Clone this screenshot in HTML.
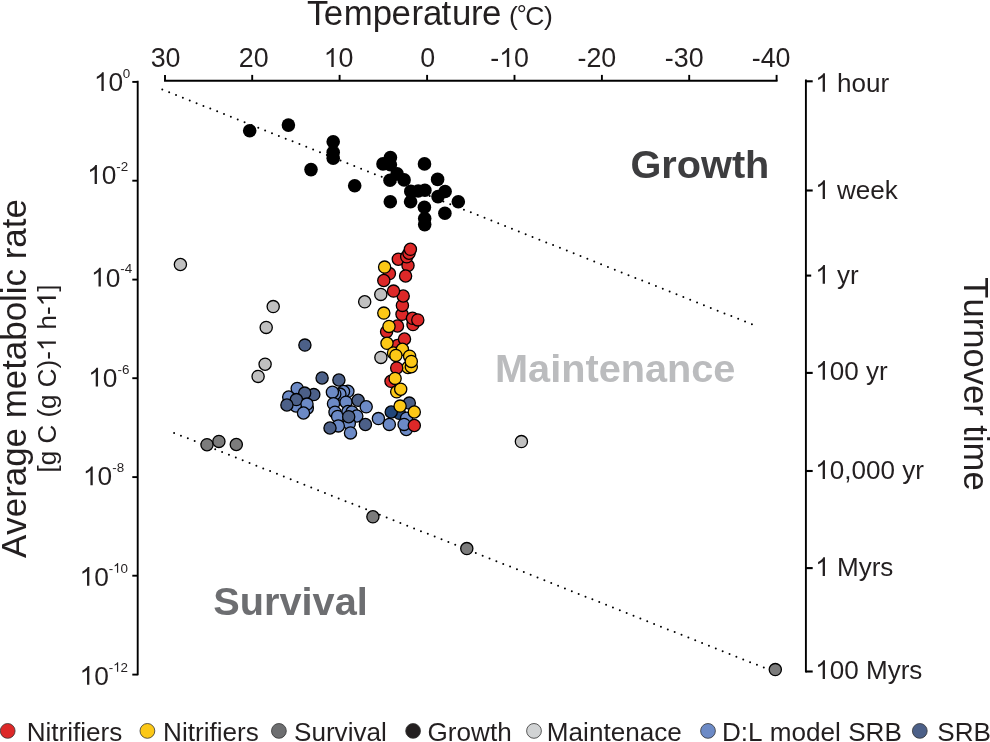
<!DOCTYPE html><html><head><meta charset="utf-8"><style>html,body{margin:0;padding:0;background:#fff;overflow:hidden;width:990px;height:742px;}svg{display:block;will-change:transform;}text{font-family:"Liberation Sans",sans-serif;font-kerning:none;font-feature-settings:"kern" 0,"liga" 0;}</style></head><body>
<svg width="990" height="742" viewBox="0 0 990 742">
<rect width="990" height="742" fill="#fff"/>
<text x="307.02 323.82 343.79 372.86 391.62 411.49 422.92 441.57 451.94 471.09 482.02" y="24.7" font-size="34.8" fill="#231f20">Temperature</text>
<text x="508.96" y="24.90" font-size="26.5" fill="#231f20">(</text>
<text x="516.81" y="22.75" font-size="25" fill="#231f20">°</text>
<text x="525.15" y="24.90" font-size="26.5" fill="#231f20">C</text>
<text x="544.04" y="24.90" font-size="26.5" fill="#231f20">)</text>
<g stroke="#000" stroke-width="1.9" fill="none">
<path d="M164.05 80.8 H777.55"/>
<path d="M165.0 80.8 V74.9"/>
<path d="M252.2 80.8 V74.9"/>
<path d="M339.6 80.8 V74.9"/>
<path d="M427.1 80.8 V74.9"/>
<path d="M514.5 80.8 V74.9"/>
<path d="M601.9 80.8 V74.9"/>
<path d="M689.2 80.8 V74.9"/>
<path d="M776.6 80.8 V74.9"/>
</g>
<text x="150.71" y="67.10" font-size="26.8" fill="#231f20">30</text>
<text x="238.79" y="67.10" font-size="26.8" fill="#231f20">20</text>
<text x="323.71" y="67.10" font-size="26.8" fill="#231f20"> 0</text>
<path d="M583 1147Q518 1085 412.5 1023Q307 961 223 930L223 1104Q374 1175 485.5 1276Q597 1377 639 1466L763 1466L763 0L583 0Z" fill="#231f20" transform="translate(323.71 67.10) scale(0.01309 -0.01309)"/>
<text x="420.35" y="67.10" font-size="26.8" fill="#231f20">0</text>
<text x="490.26" y="67.10" font-size="26.8" fill="#231f20">- 0</text>
<path d="M583 1147Q518 1085 412.5 1023Q307 961 223 930L223 1104Q374 1175 485.5 1276Q597 1377 639 1466L763 1466L763 0L583 0Z" fill="#231f20" transform="translate(499.19 67.10) scale(0.01309 -0.01309)"/>
<text x="577.46" y="67.10" font-size="26.8" fill="#231f20">-20</text>
<text x="664.86" y="67.10" font-size="26.8" fill="#231f20">-30</text>
<text x="751.76" y="67.10" font-size="26.8" fill="#231f20">-40</text>
<g stroke="#000" stroke-width="1.9" fill="none">
<path d="M137.7 80.8 V675.3"/>
<path d="M132.3 81.9 H137.7" stroke-width="1.9"/>
<path d="M132.3 180.7 H137.7" stroke-width="1.9"/>
<path d="M132.3 279.6 H137.7" stroke-width="1.9"/>
<path d="M132.3 378.2 H137.7" stroke-width="1.9"/>
<path d="M132.3 477.1 H137.7" stroke-width="1.9"/>
<path d="M132.3 575.7 H137.7" stroke-width="1.9"/>
<path d="M132.3 674.6 H137.7" stroke-width="1.9"/>
</g>
<text x="93.94" y="91.00" font-size="26.3" fill="#231f20"> 0</text>
<path d="M583 1147Q518 1085 412.5 1023Q307 961 223 930L223 1104Q374 1175 485.5 1276Q597 1377 639 1466L763 1466L763 0L583 0Z" fill="#231f20" transform="translate(93.94 91.00) scale(0.01284 -0.01284)"/>
<text x="122.78" y="78.18" font-size="13.4" fill="#231f20">0</text>
<text x="87.14" y="183.90" font-size="26.3" fill="#231f20"> 0</text>
<path d="M583 1147Q518 1085 412.5 1023Q307 961 223 930L223 1104Q374 1175 485.5 1276Q597 1377 639 1466L763 1466L763 0L583 0Z" fill="#231f20" transform="translate(87.14 183.90) scale(0.01284 -0.01284)"/>
<text x="116.30" y="170.78" font-size="13.4" fill="#231f20">-2</text>
<text x="91.04" y="286.60" font-size="26.3" fill="#231f20"> 0</text>
<path d="M583 1147Q518 1085 412.5 1023Q307 961 223 930L223 1104Q374 1175 485.5 1276Q597 1377 639 1466L763 1466L763 0L583 0Z" fill="#231f20" transform="translate(91.04 286.60) scale(0.01284 -0.01284)"/>
<text x="120.20" y="273.48" font-size="13.4" fill="#231f20">-4</text>
<text x="88.24" y="386.60" font-size="26.3" fill="#231f20"> 0</text>
<path d="M583 1147Q518 1085 412.5 1023Q307 961 223 930L223 1104Q374 1175 485.5 1276Q597 1377 639 1466L763 1466L763 0L583 0Z" fill="#231f20" transform="translate(88.24 386.60) scale(0.01284 -0.01284)"/>
<text x="117.50" y="373.68" font-size="13.4" fill="#231f20">-6</text>
<text x="82.94" y="485.30" font-size="26.3" fill="#231f20"> 0</text>
<path d="M583 1147Q518 1085 412.5 1023Q307 961 223 930L223 1104Q374 1175 485.5 1276Q597 1377 639 1466L763 1466L763 0L583 0Z" fill="#231f20" transform="translate(82.94 485.30) scale(0.01284 -0.01284)"/>
<text x="112.20" y="472.48" font-size="13.4" fill="#231f20">-8</text>
<text x="79.54" y="585.70" font-size="26.3" fill="#231f20"> 0</text>
<path d="M583 1147Q518 1085 412.5 1023Q307 961 223 930L223 1104Q374 1175 485.5 1276Q597 1377 639 1466L763 1466L763 0L583 0Z" fill="#231f20" transform="translate(79.54 585.70) scale(0.01284 -0.01284)"/>
<text x="108.70" y="572.68" font-size="13.4" fill="#231f20">- 0</text>
<path d="M583 1147Q518 1085 412.5 1023Q307 961 223 930L223 1104Q374 1175 485.5 1276Q597 1377 639 1466L763 1466L763 0L583 0Z" fill="#231f20" transform="translate(113.17 572.68) scale(0.00654 -0.00654)"/>
<text x="79.54" y="684.70" font-size="26.3" fill="#231f20"> 0</text>
<path d="M583 1147Q518 1085 412.5 1023Q307 961 223 930L223 1104Q374 1175 485.5 1276Q597 1377 639 1466L763 1466L763 0L583 0Z" fill="#231f20" transform="translate(79.54 684.70) scale(0.01284 -0.01284)"/>
<text x="108.70" y="671.78" font-size="13.4" fill="#231f20">- 2</text>
<path d="M583 1147Q518 1085 412.5 1023Q307 961 223 930L223 1104Q374 1175 485.5 1276Q597 1377 639 1466L763 1466L763 0L583 0Z" fill="#231f20" transform="translate(113.17 671.78) scale(0.00654 -0.00654)"/>
<g stroke="#000" stroke-width="1.9" fill="none">
<path d="M805.9 79.4 V672.6"/>
<path d="M805.9 81.3 H812.7" stroke-width="2.1"/>
<path d="M805.9 190.5 H812.7" stroke-width="2.1"/>
<path d="M805.9 275.6 H811.2" stroke-width="2.1"/>
<path d="M805.9 372.9 H812.7" stroke-width="2.1"/>
<path d="M805.9 471.0 H812.7" stroke-width="2.1"/>
<path d="M805.9 568.1 H812.7" stroke-width="2.1"/>
<path d="M805.9 671.5 H812.7" stroke-width="2.1"/>
</g>
<text x="815.26" y="91.80" font-size="26.05" fill="#231f20">  hour</text>
<path d="M583 1147Q518 1085 412.5 1023Q307 961 223 930L223 1104Q374 1175 485.5 1276Q597 1377 639 1466L763 1466L763 0L583 0Z" fill="#231f20" transform="translate(815.26 91.80) scale(0.01272 -0.01272)"/>
<text x="815.26" y="198.90" font-size="26.05" fill="#231f20">  week</text>
<path d="M583 1147Q518 1085 412.5 1023Q307 961 223 930L223 1104Q374 1175 485.5 1276Q597 1377 639 1466L763 1466L763 0L583 0Z" fill="#231f20" transform="translate(815.26 198.90) scale(0.01272 -0.01272)"/>
<text x="815.26" y="283.70" font-size="26.05" fill="#231f20">  yr</text>
<path d="M583 1147Q518 1085 412.5 1023Q307 961 223 930L223 1104Q374 1175 485.5 1276Q597 1377 639 1466L763 1466L763 0L583 0Z" fill="#231f20" transform="translate(815.26 283.70) scale(0.01272 -0.01272)"/>
<text x="815.26" y="379.70" font-size="26.05" fill="#231f20"> 00 yr</text>
<path d="M583 1147Q518 1085 412.5 1023Q307 961 223 930L223 1104Q374 1175 485.5 1276Q597 1377 639 1466L763 1466L763 0L583 0Z" fill="#231f20" transform="translate(815.26 379.70) scale(0.01272 -0.01272)"/>
<text x="815.26" y="478.90" font-size="26.05" fill="#231f20"> 0,000 yr</text>
<path d="M583 1147Q518 1085 412.5 1023Q307 961 223 930L223 1104Q374 1175 485.5 1276Q597 1377 639 1466L763 1466L763 0L583 0Z" fill="#231f20" transform="translate(815.26 478.90) scale(0.01272 -0.01272)"/>
<text x="815.26" y="576.00" font-size="26.05" fill="#231f20">  Myrs</text>
<path d="M583 1147Q518 1085 412.5 1023Q307 961 223 930L223 1104Q374 1175 485.5 1276Q597 1377 639 1466L763 1466L763 0L583 0Z" fill="#231f20" transform="translate(815.26 576.00) scale(0.01272 -0.01272)"/>
<text x="815.26" y="678.90" font-size="26.05" fill="#231f20"> 00 Myrs</text>
<path d="M583 1147Q518 1085 412.5 1023Q307 961 223 930L223 1104Q374 1175 485.5 1276Q597 1377 639 1466L763 1466L763 0L583 0Z" fill="#231f20" transform="translate(815.26 678.90) scale(0.01272 -0.01272)"/>
<g transform="translate(25.6 557.97) rotate(-90)"><text x="0.00" y="0.00" font-size="34.9" fill="#231f20">Average metabolic rate</text></g>
<g transform="translate(55.9 472.45) rotate(-90)"><text x="0.00" y="0.00" font-size="26.0" fill="#231f20">[g C (g C)-  h- ]</text><path d="M583 1147Q518 1085 412.5 1023Q307 961 223 930L223 1104Q374 1175 485.5 1276Q597 1377 639 1466L763 1466L763 0L583 0Z" fill="#231f20" transform="translate(121.34 0.00) scale(0.01270 -0.01270)"/><path d="M583 1147Q518 1085 412.5 1023Q307 961 223 930L223 1104Q374 1175 485.5 1276Q597 1377 639 1466L763 1466L763 0L583 0Z" fill="#231f20" transform="translate(166.14 0.00) scale(0.01270 -0.01270)"/></g>
<g transform="translate(963.8 277.32) rotate(90)"><text x="0.00" y="0.00" font-size="34.6" fill="#231f20">Turnover time</text></g>
<text x="630.47" y="177.50" font-size="39.7" fill="#3d3d3f" font-weight="bold">Growth</text>
<text x="495.04" y="381.80" font-size="39.7" fill="#bbbcbe" font-weight="bold">Maintenance</text>
<text x="213.36" y="615.40" font-size="39.7" fill="#6d6e71" font-weight="bold">Survival</text>
<path d="M162.3 89.5 L752.36 324.48" stroke="#000" stroke-width="2.0" stroke-linecap="round" stroke-dasharray="0 7.3795" fill="none"/>
<path d="M174.1 432.9 L764.26 667.78" stroke="#000" stroke-width="2.0" stroke-linecap="round" stroke-dasharray="0 7.3801" fill="none"/>
<circle cx="180.4" cy="264.5" r="6.1" fill="#c0c0c0" stroke="#000" stroke-width="1.3"/>
<circle cx="273.2" cy="306.6" r="6.1" fill="#c0c0c0" stroke="#000" stroke-width="1.3"/>
<circle cx="266.2" cy="327.4" r="6.1" fill="#c0c0c0" stroke="#000" stroke-width="1.3"/>
<circle cx="265.1" cy="364.2" r="6.1" fill="#c0c0c0" stroke="#000" stroke-width="1.3"/>
<circle cx="258.1" cy="376.4" r="6.1" fill="#c0c0c0" stroke="#000" stroke-width="1.3"/>
<circle cx="364.7" cy="301.8" r="6.1" fill="#c0c0c0" stroke="#000" stroke-width="1.3"/>
<circle cx="380.8" cy="294.4" r="6.1" fill="#c0c0c0" stroke="#000" stroke-width="1.3"/>
<circle cx="380.9" cy="357.4" r="6.1" fill="#c0c0c0" stroke="#000" stroke-width="1.3"/>
<circle cx="521.4" cy="441.6" r="6.1" fill="#c0c0c0" stroke="#000" stroke-width="1.3"/>
<circle cx="207.0" cy="444.7" r="6.1" fill="#7c7c7c" stroke="#000" stroke-width="1.3"/>
<circle cx="218.9" cy="441.4" r="6.1" fill="#7c7c7c" stroke="#000" stroke-width="1.3"/>
<circle cx="236.3" cy="444.5" r="6.1" fill="#7c7c7c" stroke="#000" stroke-width="1.3"/>
<circle cx="372.9" cy="516.8" r="6.1" fill="#7c7c7c" stroke="#000" stroke-width="1.3"/>
<circle cx="466.8" cy="548.6" r="6.1" fill="#7c7c7c" stroke="#000" stroke-width="1.3"/>
<circle cx="775.3" cy="669.6" r="6.1" fill="#7c7c7c" stroke="#000" stroke-width="1.3"/>
<circle cx="288.7" cy="397.0" r="6.1" fill="#6c8ac6" stroke="#000" stroke-width="1.3"/>
<circle cx="297.2" cy="388.4" r="6.1" fill="#6c8ac6" stroke="#000" stroke-width="1.3"/>
<circle cx="296.0" cy="406.0" r="6.1" fill="#6c8ac6" stroke="#000" stroke-width="1.3"/>
<circle cx="313.8" cy="394.6" r="6.1" fill="#4c6088" stroke="#000" stroke-width="1.3"/>
<circle cx="304.7" cy="393.1" r="6.1" fill="#4c6088" stroke="#000" stroke-width="1.3"/>
<circle cx="296.4" cy="399.6" r="6.1" fill="#4c6088" stroke="#000" stroke-width="1.3"/>
<circle cx="286.9" cy="405.0" r="6.1" fill="#4c6088" stroke="#000" stroke-width="1.3"/>
<circle cx="307.3" cy="408.2" r="6.1" fill="#6c8ac6" stroke="#000" stroke-width="1.3"/>
<circle cx="307.0" cy="404.1" r="6.1" fill="#6c8ac6" stroke="#000" stroke-width="1.3"/>
<circle cx="303.5" cy="413.0" r="6.1" fill="#6c8ac6" stroke="#000" stroke-width="1.3"/>
<circle cx="304.9" cy="345.1" r="6.1" fill="#4c6088" stroke="#000" stroke-width="1.3"/>
<circle cx="322.1" cy="378.0" r="6.1" fill="#4c6088" stroke="#000" stroke-width="1.3"/>
<circle cx="338.9" cy="380.0" r="6.1" fill="#4c6088" stroke="#000" stroke-width="1.3"/>
<circle cx="347.9" cy="391.3" r="6.1" fill="#6c8ac6" stroke="#000" stroke-width="1.3"/>
<circle cx="343.5" cy="391.5" r="6.1" fill="#6c8ac6" stroke="#000" stroke-width="1.3"/>
<circle cx="339.9" cy="394.1" r="6.1" fill="#6c8ac6" stroke="#000" stroke-width="1.3"/>
<circle cx="334.8" cy="393.9" r="6.1" fill="#6c8ac6" stroke="#000" stroke-width="1.3"/>
<circle cx="332.4" cy="392.2" r="6.1" fill="#6c8ac6" stroke="#000" stroke-width="1.3"/>
<circle cx="346.0" cy="402.2" r="6.1" fill="#6c8ac6" stroke="#000" stroke-width="1.3"/>
<circle cx="358.1" cy="400.3" r="6.1" fill="#4c6088" stroke="#000" stroke-width="1.3"/>
<circle cx="366.2" cy="406.8" r="6.1" fill="#6c8ac6" stroke="#000" stroke-width="1.3"/>
<circle cx="333.5" cy="403.7" r="6.1" fill="#6c8ac6" stroke="#000" stroke-width="1.3"/>
<circle cx="335.0" cy="412.2" r="6.1" fill="#6c8ac6" stroke="#000" stroke-width="1.3"/>
<circle cx="337.6" cy="416.4" r="6.1" fill="#6c8ac6" stroke="#000" stroke-width="1.3"/>
<circle cx="348.0" cy="411.5" r="6.1" fill="#6c8ac6" stroke="#000" stroke-width="1.3"/>
<circle cx="352.0" cy="412.0" r="6.1" fill="#6c8ac6" stroke="#000" stroke-width="1.3"/>
<circle cx="356.8" cy="416.0" r="6.1" fill="#6c8ac6" stroke="#000" stroke-width="1.3"/>
<circle cx="349.3" cy="423.5" r="6.1" fill="#6c8ac6" stroke="#000" stroke-width="1.3"/>
<circle cx="348.7" cy="416.7" r="6.1" fill="#4c6088" stroke="#000" stroke-width="1.3"/>
<circle cx="338.3" cy="425.9" r="6.1" fill="#6c8ac6" stroke="#000" stroke-width="1.3"/>
<circle cx="330.0" cy="428.0" r="6.1" fill="#4c6088" stroke="#000" stroke-width="1.3"/>
<circle cx="350.5" cy="432.9" r="6.1" fill="#6c8ac6" stroke="#000" stroke-width="1.3"/>
<circle cx="365.4" cy="424.5" r="6.1" fill="#4c6088" stroke="#000" stroke-width="1.3"/>
<circle cx="398.3" cy="259.2" r="6.1" fill="#dd2828" stroke="#000" stroke-width="1.3"/>
<circle cx="408.0" cy="265.5" r="6.1" fill="#dd2828" stroke="#000" stroke-width="1.3"/>
<circle cx="406.7" cy="256.8" r="6.1" fill="#dd2828" stroke="#000" stroke-width="1.3"/>
<circle cx="409.0" cy="253.2" r="6.1" fill="#dd2828" stroke="#000" stroke-width="1.3"/>
<circle cx="410.4" cy="249.3" r="6.1" fill="#dd2828" stroke="#000" stroke-width="1.3"/>
<circle cx="405.6" cy="276.0" r="6.1" fill="#dd2828" stroke="#000" stroke-width="1.3"/>
<circle cx="389.4" cy="273.6" r="6.1" fill="#dd2828" stroke="#000" stroke-width="1.3"/>
<circle cx="384.6" cy="267.1" r="6.1" fill="#fcc816" stroke="#000" stroke-width="1.3"/>
<circle cx="383.8" cy="280.5" r="6.1" fill="#dd2828" stroke="#000" stroke-width="1.3"/>
<circle cx="402.0" cy="314.3" r="6.1" fill="#dd2828" stroke="#000" stroke-width="1.3"/>
<circle cx="402.4" cy="305.4" r="6.1" fill="#dd2828" stroke="#000" stroke-width="1.3"/>
<circle cx="403.2" cy="296.0" r="6.1" fill="#dd2828" stroke="#000" stroke-width="1.3"/>
<circle cx="393.5" cy="291.1" r="6.1" fill="#dd2828" stroke="#000" stroke-width="1.3"/>
<circle cx="383.8" cy="313.1" r="6.1" fill="#fcc816" stroke="#000" stroke-width="1.3"/>
<circle cx="413.0" cy="324.6" r="6.1" fill="#dd2828" stroke="#000" stroke-width="1.3"/>
<circle cx="412.5" cy="318.3" r="6.1" fill="#dd2828" stroke="#000" stroke-width="1.3"/>
<circle cx="417.8" cy="319.9" r="6.1" fill="#dd2828" stroke="#000" stroke-width="1.3"/>
<circle cx="386.6" cy="331.7" r="6.1" fill="#dd2828" stroke="#000" stroke-width="1.3"/>
<circle cx="397.5" cy="326.0" r="6.1" fill="#dd2828" stroke="#000" stroke-width="1.3"/>
<circle cx="389.0" cy="326.4" r="6.1" fill="#fcc816" stroke="#000" stroke-width="1.3"/>
<circle cx="397.5" cy="345.5" r="6.1" fill="#dd2828" stroke="#000" stroke-width="1.3"/>
<circle cx="404.5" cy="339.0" r="6.1" fill="#dd2828" stroke="#000" stroke-width="1.3"/>
<circle cx="387.0" cy="343.3" r="6.1" fill="#fcc816" stroke="#000" stroke-width="1.3"/>
<circle cx="393.5" cy="352.9" r="6.1" fill="#fcc816" stroke="#000" stroke-width="1.3"/>
<circle cx="402.4" cy="349.3" r="6.1" fill="#fcc816" stroke="#000" stroke-width="1.3"/>
<circle cx="395.9" cy="355.4" r="6.1" fill="#fcc816" stroke="#000" stroke-width="1.3"/>
<circle cx="409.6" cy="356.2" r="6.1" fill="#fcc816" stroke="#000" stroke-width="1.3"/>
<circle cx="408.0" cy="367.5" r="6.1" fill="#fcc816" stroke="#000" stroke-width="1.3"/>
<circle cx="411.3" cy="366.7" r="6.1" fill="#fcc816" stroke="#000" stroke-width="1.3"/>
<circle cx="411.3" cy="361.4" r="6.1" fill="#fcc816" stroke="#000" stroke-width="1.3"/>
<circle cx="396.7" cy="367.9" r="6.1" fill="#dd2828" stroke="#000" stroke-width="1.3"/>
<circle cx="391.0" cy="381.3" r="6.1" fill="#dd2828" stroke="#000" stroke-width="1.3"/>
<circle cx="395.1" cy="378.4" r="6.1" fill="#fcc816" stroke="#000" stroke-width="1.3"/>
<circle cx="396.7" cy="391.8" r="6.1" fill="#fcc816" stroke="#000" stroke-width="1.3"/>
<circle cx="400.7" cy="389.2" r="6.1" fill="#fcc816" stroke="#000" stroke-width="1.3"/>
<circle cx="409.3" cy="403.1" r="6.1" fill="#4c6088" stroke="#000" stroke-width="1.3"/>
<circle cx="399.3" cy="413.3" r="6.1" fill="#22477a" stroke="#000" stroke-width="1.3"/>
<circle cx="391.2" cy="412.0" r="6.1" fill="#22477a" stroke="#000" stroke-width="1.3"/>
<circle cx="400.1" cy="406.1" r="6.1" fill="#fcc816" stroke="#000" stroke-width="1.3"/>
<circle cx="406.6" cy="418.2" r="6.1" fill="#6c8ac6" stroke="#000" stroke-width="1.3"/>
<circle cx="414.3" cy="412.0" r="6.1" fill="#fcc816" stroke="#000" stroke-width="1.3"/>
<circle cx="378.4" cy="418.6" r="6.1" fill="#6c8ac6" stroke="#000" stroke-width="1.3"/>
<circle cx="389.3" cy="424.4" r="6.1" fill="#6c8ac6" stroke="#000" stroke-width="1.3"/>
<circle cx="406.3" cy="429.5" r="6.1" fill="#6c8ac6" stroke="#000" stroke-width="1.3"/>
<circle cx="404.1" cy="424.4" r="6.1" fill="#6c8ac6" stroke="#000" stroke-width="1.3"/>
<circle cx="414.3" cy="425.5" r="6.1" fill="#dd2828" stroke="#000" stroke-width="1.3"/>
<circle cx="249.7" cy="130.7" r="6.8" fill="#000"/>
<circle cx="288.4" cy="125.1" r="6.8" fill="#000"/>
<circle cx="311.0" cy="169.6" r="6.8" fill="#000"/>
<circle cx="333.2" cy="141.8" r="6.8" fill="#000"/>
<circle cx="333.2" cy="152.3" r="6.8" fill="#000"/>
<circle cx="333.2" cy="158.3" r="6.8" fill="#000"/>
<circle cx="354.7" cy="185.7" r="6.8" fill="#000"/>
<circle cx="383.0" cy="163.9" r="6.8" fill="#000"/>
<circle cx="390.4" cy="157.6" r="6.8" fill="#000"/>
<circle cx="390.4" cy="164.7" r="6.8" fill="#000"/>
<circle cx="397.1" cy="173.9" r="6.8" fill="#000"/>
<circle cx="390.0" cy="180.2" r="6.8" fill="#000"/>
<circle cx="404.1" cy="179.9" r="6.8" fill="#000"/>
<circle cx="410.8" cy="191.4" r="6.8" fill="#000"/>
<circle cx="418.2" cy="191.0" r="6.8" fill="#000"/>
<circle cx="424.9" cy="190.3" r="6.8" fill="#000"/>
<circle cx="424.5" cy="163.9" r="6.8" fill="#000"/>
<circle cx="437.6" cy="179.4" r="6.8" fill="#000"/>
<circle cx="445.1" cy="191.5" r="6.8" fill="#000"/>
<circle cx="438.0" cy="196.6" r="6.8" fill="#000"/>
<circle cx="458.3" cy="201.7" r="6.8" fill="#000"/>
<circle cx="444.9" cy="213.3" r="6.8" fill="#000"/>
<circle cx="390.3" cy="201.8" r="6.8" fill="#000"/>
<circle cx="410.6" cy="201.7" r="6.8" fill="#000"/>
<circle cx="424.4" cy="207.3" r="6.8" fill="#000"/>
<circle cx="424.7" cy="218.6" r="6.8" fill="#000"/>
<circle cx="424.7" cy="224.6" r="6.8" fill="#000"/>
<circle cx="7.7" cy="730.9" r="7.4" fill="#dd2828" stroke="#333" stroke-width="0.8"/>
<text x="26.66" y="741.00" font-size="26.1" fill="#231f20">Nitrifiers</text>
<circle cx="147.4" cy="730.9" r="7.4" fill="#fcc816" stroke="#333" stroke-width="0.8"/>
<text x="163.06" y="741.00" font-size="26.1" fill="#231f20">Nitrifiers</text>
<circle cx="278.9" cy="730.9" r="7.4" fill="#6d6e70" stroke="#333" stroke-width="0.8"/>
<text x="294.01" y="741.00" font-size="26.1" fill="#231f20">Survival</text>
<circle cx="413.1" cy="730.9" r="7.4" fill="#231f20" stroke="#333" stroke-width="0.8"/>
<text x="427.59" y="741.00" font-size="26.1" fill="#231f20">Growth</text>
<circle cx="534.0" cy="730.9" r="7.4" fill="#d1d3d4" stroke="#333" stroke-width="0.8"/>
<text x="546.86" y="741.00" font-size="26.1" fill="#231f20">Maintenace</text>
<circle cx="708.0" cy="730.9" r="7.4" fill="#6c8ac6" stroke="#333" stroke-width="0.8"/>
<text x="721.96" y="741.00" font-size="26.1" fill="#231f20">D:L model SRB</text>
<circle cx="919.8" cy="730.9" r="7.4" fill="#4c6088" stroke="#333" stroke-width="0.8"/>
<text x="937.31" y="741.00" font-size="26.1" fill="#231f20">SRB</text>
</svg></body></html>
